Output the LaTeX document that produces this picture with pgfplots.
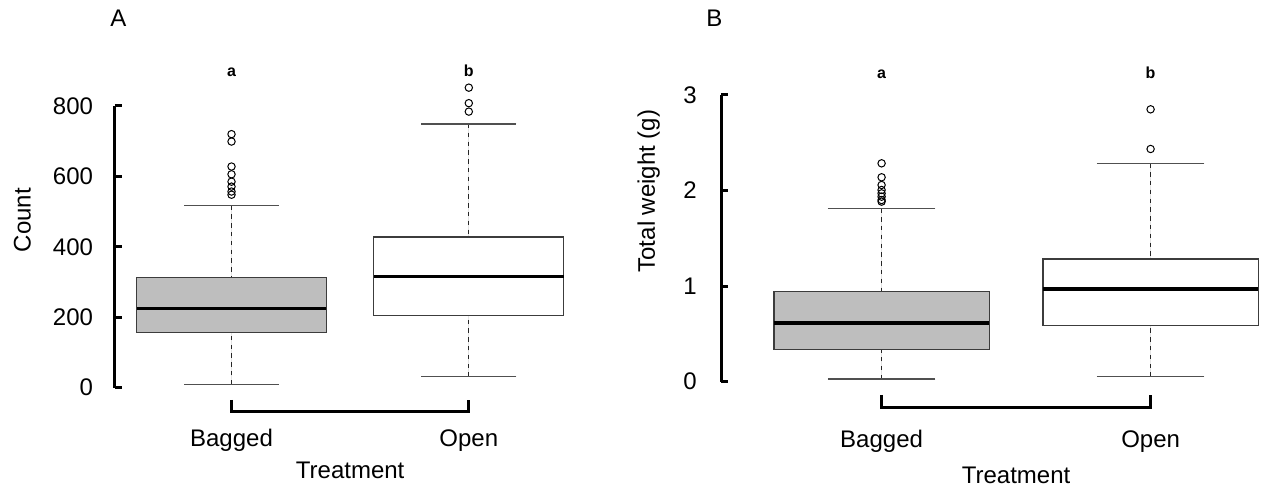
\documentclass[border=0pt]{standalone}
\usepackage{fontspec}
\setmainfont{Liberation Sans}
\usepackage{pgfplots}
\pgfplotsset{compat=1.18}
\usepgfplotslibrary{statistics}
\definecolor{boxgray}{HTML}{BEBEBE}
\definecolor{edgecol}{HTML}{3C3C3C}
\definecolor{capcol}{HTML}{505050}

\pgfplotsset{
  rbox/.style={
    boxplot/draw direction=y,
    boxplot/box extend=0.8,
    boxplot/whisker extend=0.4,
    boxplot/every median/.style={line width=1.6pt, black, line cap=butt},
    boxplot/every box/.style={line width=0.6pt},
    boxplot/draw/lower whisker/.code={%
      \draw[line width=0.5pt, black!85, dash pattern=on 2.2pt off 2.2pt]
        (boxplot box cs:\pgfplotsboxplotvalue{lower whisker},0.5) --
        (boxplot box cs:\pgfplotsboxplotvalue{lower quartile},0.5);
      \draw[line width=0.6pt, capcol]
        (boxplot whisker cs:\pgfplotsboxplotvalue{lower whisker},0) --
        (boxplot whisker cs:\pgfplotsboxplotvalue{lower whisker},1);
    },
    boxplot/draw/upper whisker/.code={%
      \draw[line width=0.5pt, black!85, dash pattern=on 2.2pt off 2.2pt]
        (boxplot box cs:\pgfplotsboxplotvalue{upper whisker},0.5) --
        (boxplot box cs:\pgfplotsboxplotvalue{upper quartile},0.5);
      \draw[line width=0.6pt, capcol]
        (boxplot whisker cs:\pgfplotsboxplotvalue{upper whisker},0) --
        (boxplot whisker cs:\pgfplotsboxplotvalue{upper whisker},1);
    },
  },
  panel/.style={
    clip=false,
    axis x line=none,
    axis y line*=left,
    y axis line style={line width=1.5pt, -},
    ytick pos=left,
    tick align=inside,
    major tick length=3.4pt,
    tick style={black, line width=1.5pt},
    xtick=\empty,
    /pgf/number format/assume math mode=true,
    tick label style={font=\fontsize{12}{14}\selectfont},
    yticklabel style={inner sep=0pt, anchor=east},
  },
  outl/.style={only marks, mark=o, mark size=1.85pt, mark options={line width=0.5pt, black}},
}
\newcommand{\lab}{\fontsize{12}{14}\selectfont}
\newcommand{\sig}{\fontsize{8}{9}\selectfont\bfseries}

\begin{document}
\begin{tikzpicture}
\useasboundingbox (0,0) rectangle (634.5pt,245.5pt);

% ---------------- Panel A ----------------
\begin{axis}[panel, rbox,
  at={(57.5pt,51.65pt)}, anchor=south west,
  x=118.65pt, y=0.176065pt,
  xmin=0.509, xmax=2.5, ymin=0, ymax=800,
  ytick={0,200,400,600,800},
  yticklabel style={xshift=-10.8pt}]
\addplot[fill=boxgray, draw=edgecol, boxplot prepared={draw position=1,
  lower whisker=10, lower quartile=156, median=224,
  upper quartile=312, upper whisker=517}] coordinates {};
\addplot[fill=white, draw=edgecol, boxplot prepared={draw position=2,
  lower whisker=31, lower quartile=206, median=315,
  upper quartile=428, upper whisker=749}] coordinates {};
\addplot[outl] coordinates {(1,548) (1,557) (1,571) (1,585) (1,606) (1,628) (1,699) (1,720)};
\addplot[outl] coordinates {(2,784) (2,808) (2,852)};
\addplot[line width=1.5pt, black, line join=miter, mark=none]
  coordinates {(1,-34.9) (1,-68.2) (2,-68.2) (2,-34.9)};
\node[font=\lab, anchor=base] at (axis cs:0.5234,1025.2) {A};
\node[font=\sig, anchor=base] at (axis cs:1,883.2) {a};
\node[font=\sig, anchor=base] at (axis cs:2,883.2) {b};
\node[font=\lab, anchor=base] at (axis cs:1,-167.6) {Bagged};
\node[font=\lab, anchor=base] at (axis cs:2,-167.6) {Open};
\node[font=\lab, anchor=base] at (axis cs:1.5,-257.3) {Treatment};
\node[font=\lab, anchor=base, rotate=90] at (axis cs:0.1534,476.2) {Count};
\end{axis}

% ---------------- Panel B ----------------
\begin{axis}[panel, rbox,
  at={(360.5pt,54.65pt)}, anchor=south west,
  x=134.5pt, y=47.7835pt,
  xmin=0.403, xmax=2.4, ymin=0, ymax=3,
  ytick={0,1,2,3},
  yticklabel style={xshift=-11.9pt}]
\addplot[fill=boxgray, draw=edgecol, boxplot prepared={draw position=1,
  lower whisker=0.028, lower quartile=0.339, median=0.615,
  upper quartile=0.942, upper whisker=1.814}] coordinates {};
\addplot[fill=white, draw=edgecol, boxplot prepared={draw position=2,
  lower whisker=0.052, lower quartile=0.586, median=0.970,
  upper quartile=1.284, upper whisker=2.285}] coordinates {};
\addplot[outl] coordinates {(1,1.884) (1,1.901) (1,1.936) (1,1.971) (1,2.006) (1,2.058) (1,2.139) (1,2.285)};
\addplot[outl] coordinates {(2,2.435) (2,2.85)};
\addplot[line width=1.5pt, black, line join=miter, mark=none]
  coordinates {(1,-0.1392) (1,-0.2679) (2,-0.2679) (2,-0.1392)};
\node[font=\lab, anchor=base] at (axis cs:0.3784,3.7146) {B};
\node[font=\sig, anchor=base] at (axis cs:1,3.1674) {a};
\node[font=\sig, anchor=base] at (axis cs:2,3.1674) {b};
\node[font=\lab, anchor=base] at (axis cs:1,-0.6906) {Bagged};
\node[font=\lab, anchor=base] at (axis cs:2,-0.6906) {Open};
\node[font=\lab, anchor=base] at (axis cs:1.5,-1.0704) {Treatment};
\node[font=\lab, anchor=base, rotate=90] at (axis cs:0.1576,1.9954) {Total weight (g)};
\end{axis}
\end{tikzpicture}
\end{document}
